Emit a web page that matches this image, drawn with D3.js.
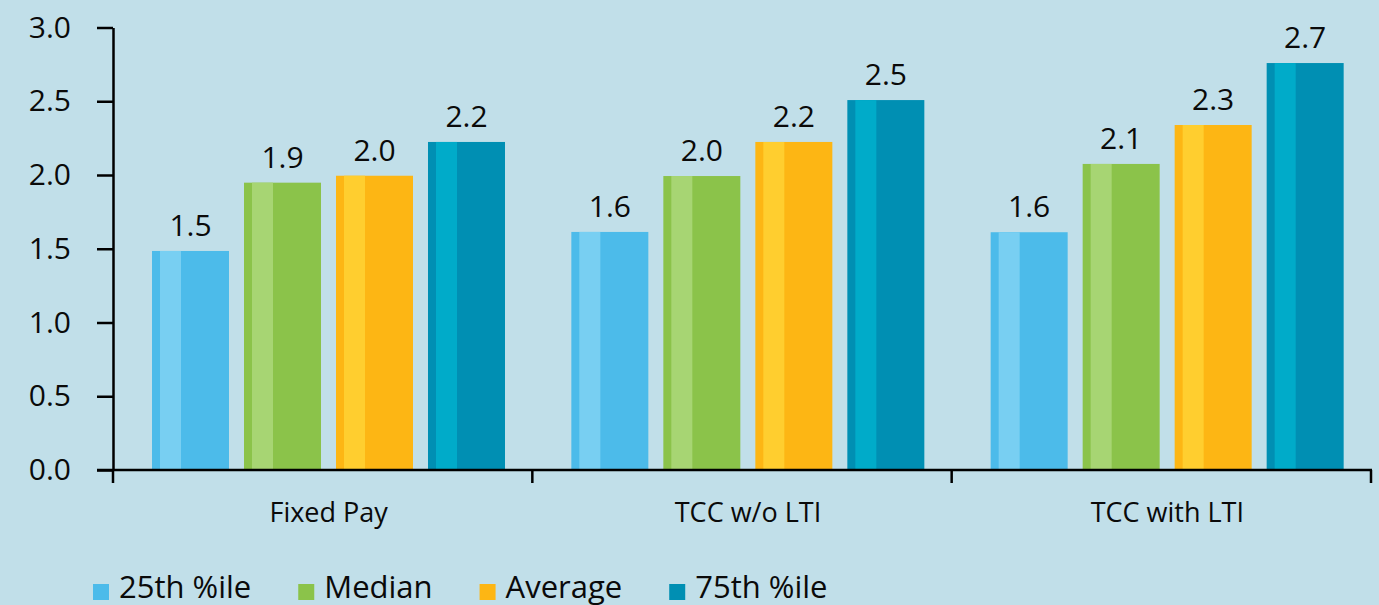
<!DOCTYPE html>
<html>
<head>
<meta charset="utf-8">
<script src="https://cdn.jsdelivr.net/npm/d3@7"></script>
<style>
  html, body { margin: 0; padding: 0; background: #C1DFE9; }
  svg { display: block; }
  text { font-family: "Open Sans", sans-serif; fill: #0a0a0a; }
</style>
</head>
<body>
<svg id="chart" width="1379" height="605"></svg>
<script>
// ---- data ----
const categories = ["Fixed Pay", "TCC w/o LTI", "TCC with LTI"];
const seriesNames = ["25th %ile", "Median", "Average", "75th %ile"];
const p25Values     = [1.485, 1.614, 1.612];
const medianValues  = [1.948, 1.993, 2.075];
const averageValues = [1.995, 2.224, 2.339];
const p75Values     = [2.224, 2.508, 2.759];
const p25Labels     = ["1.5", "1.6", "1.6"];
const medianLabels  = ["1.9", "2.0", "2.1"];
const averageLabels = ["2.0", "2.2", "2.3"];
const p75Labels     = ["2.2", "2.5", "2.7"];
const yTicks = [0, 0.5, 1.0, 1.5, 2.0, 2.5, 3.0];

const baseColors  = ["#4CBBEA", "#8BC34A", "#FDB614", "#008FB3"];
const lightColors = ["#78CFF2", "#A7D573", "#FFCE2F", "#00ABC9"];

const seriesValues = [p25Values, medianValues, averageValues, p75Values];
const seriesLabels = [p25Labels, medianLabels, averageLabels, p75Labels];

// ---- layout ----
const svg = d3.select("#chart");
const x = d3.scaleBand().domain(categories).range([113, 1371]).padding(0);
const xs = d3.scaleBand().domain(seriesNames).range([39, 392]).paddingInner(0.163).paddingOuter(0);
const y = d3.scaleLinear().domain([0, 3]).range([470, 27.5]);

const rows = [];
categories.forEach((c, ci) => {
  seriesNames.forEach((s, si) => {
    rows.push({ cat: c, series: s, si, value: seriesValues[si][ci], label: seriesLabels[si][ci] });
  });
});

const bw = xs.bandwidth();
const g = svg.append("g");
const bars = g.selectAll("g.bar").data(rows).join("g").attr("class", "bar")
  .attr("transform", d => `translate(${x(d.cat) + xs(d.series)},0)`);
bars.append("rect")
  .attr("x", 0).attr("width", bw)
  .attr("y", d => y(d.value)).attr("height", d => y(0) - y(d.value))
  .attr("fill", d => baseColors[d.si]);
bars.append("rect")
  .attr("x", bw * 8 / 77).attr("width", bw * 21 / 77)
  .attr("y", d => y(d.value)).attr("height", d => y(0) - y(d.value))
  .attr("fill", d => lightColors[d.si]);
bars.append("text")
  .attr("x", bw / 2).attr("y", d => y(d.value) - 15)
  .attr("text-anchor", "middle")
  .style("font-size", "30px")
  .text(d => d.label);

// ---- y axis ----
const yAxis = svg.append("g").attr("transform", "translate(113,0)")
  .call(d3.axisLeft(y).tickValues(yTicks).tickSize(16).tickSizeOuter(0).tickPadding(26).tickFormat(d3.format(".1f")));
yAxis.selectAll("path, line").attr("stroke", "#000").attr("stroke-width", 2.5);
yAxis.selectAll("text").style("font-size", "30px").attr("fill", "#0a0a0a").style("font-family", "'Open Sans', sans-serif");

// ---- x axis ----
const xAxis = svg.append("g").attr("transform", `translate(0,${y(0)})`);
xAxis.append("line")
  .attr("x1", 97).attr("x2", x.range()[1] + 1)
  .attr("y1", 0).attr("y2", 0)
  .attr("stroke", "#000").attr("stroke-width", 2.5);
const boundaries = categories.map(c => x(c)).concat([x.range()[1]]);
xAxis.selectAll("line.tick").data(boundaries).join("line").attr("class", "tick")
  .attr("x1", d => d).attr("x2", d => d)
  .attr("y1", 0).attr("y2", 13)
  .attr("stroke", "#000").attr("stroke-width", 2.5);
xAxis.selectAll("text.cat").data(categories).join("text").attr("class", "cat")
  .attr("x", d => x(d) + x.bandwidth() / 2 + 6)
  .attr("y", 52)
  .attr("text-anchor", "middle")
  .style("font-size", "27px")
  .text(d => d);

// ---- legend ----
const legend = svg.append("g").attr("transform", "translate(93,0)");
let lx = 0;
seriesNames.forEach((s, i) => {
  legend.append("rect").attr("x", lx).attr("y", 584).attr("width", 16).attr("height", 16)
    .attr("fill", baseColors[i]);
  const t = legend.append("text").attr("x", lx + 26).attr("y", 598)
    .style("font-size", "31px").text(s);
  lx += 26 + t.node().getComputedTextLength() + 47;
});
</script>
</body>
</html>
